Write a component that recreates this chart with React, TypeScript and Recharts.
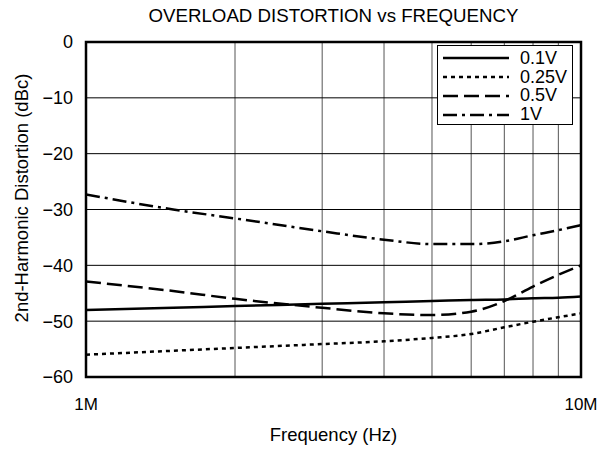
import React from 'react';
import { LineChart, Line, XAxis, YAxis, CartesianGrid, ReferenceArea, Legend } from 'recharts';

const freqs = [1e6, 1.5e6, 2e6, 3e6, 4e6, 5e6, 6e6, 7e6, 8e6, 9e6, 1e7];
const v01 = [-48.0, -47.6, -47.3, -46.9, -46.6, -46.4, -46.2, -46.1, -45.9, -45.8, -45.6];
const v025 = [-56.0, -55.3, -54.8, -54.1, -53.6, -53.0, -52.3, -51.1, -50.1, -49.3, -48.6];
const v05 = [-42.9, -44.6, -46.0, -47.6, -48.6, -48.9, -48.3, -46.4, -43.8, -41.7, -40.0];
const v1 = [-27.3, -30.0, -31.6, -33.9, -35.4, -36.2, -36.2, -35.7, -34.6, -33.7, -32.8];

const xTicks = [1e6, 2e6, 3e6, 4e6, 5e6, 6e6, 7e6, 8e6, 9e6, 1e7];
const yTicks = [-60, -50, -40, -30, -20, -10, 0];
const seriesNames = ['0.1V', '0.25V', '0.5V', '1V'];
const seriesKeys = ['a', 'b', 'c', 'd'];
const dashes = ['', '4 4', '15 6', '14 5 3 5'];

const data = freqs.map((f, i) => ({ f, a: v01[i], b: v025[i], c: v05[i], d: v1[i] }));

const FONT = '"Liberation Sans", Arial, Helvetica, sans-serif';

const fmtX = (v: number) => (v === 1e6 ? '1M' : v === 1e7 ? '10M' : '');
const fmtY = (v: number) => (v === 0 ? '0' : '\u2212' + Math.abs(v));

const renderLegend = () => (
  <div style={{ width: 136, height: 80, boxSizing: 'border-box', border: '1.5px solid #000', background: '#fff' }}>
    <svg width={133} height={77} style={{ display: 'block', overflow: 'visible' }}>
      {seriesNames.map((n, i) => {
        const y = 12 + i * 19;
        return (
          <g key={n}>
            <line x1={5} x2={71} y1={y} y2={y} stroke="#000" strokeWidth={2.5} strokeDasharray={dashes[i] || undefined} />
            <text x={82} y={18 + i * 18.6} fontSize={18} fontFamily={FONT} fill="#000">{n}</text>
          </g>
        );
      })}
    </svg>
  </div>
);

const renderYLabel = () => (
  <text
    x={21}
    y={198}
    transform="rotate(-90 21 198)"
    textAnchor="middle"
    dominantBaseline="central"
    fontSize={18.5}
    fontFamily={FONT}
    fill="#000"
  >
    2nd-Harmonic Distortion (dBc)
  </text>
);

export default function App() {
  return (
    <div style={{ position: 'absolute', left: 0, top: 0, width: 600, height: 450, background: '#fff', fontFamily: FONT }}>
      <div style={{ position: 'absolute', left: 86, width: 495, top: 5, textAlign: 'center', fontSize: 18.7, color: '#000', whiteSpace: 'nowrap' }}>
        OVERLOAD DISTORTION vs FREQUENCY
      </div>
      <LineChart width={600} height={450} data={data} margin={{ top: 42, right: 19, left: 0, bottom: 0 }} style={{ position: 'absolute', left: 0, top: 0 }}>
        <CartesianGrid horizontal={false} vertical={true} stroke="#555" strokeWidth={1} />
        <CartesianGrid horizontal={true} vertical={false} stroke="#000" strokeWidth={1} />
        <XAxis
          dataKey="f"
          type="number"
          scale="log"
          domain={[1e6, 1e7]}
          ticks={xTicks}
          interval={0}
          tickFormatter={fmtX}
          axisLine={false}
          tickLine={false}
          tickSize={0}
          tickMargin={21}
          height={73}
          tick={{ fontSize: 17, fill: '#000', fontFamily: FONT }}
          label={{ value: 'Frequency (Hz)', position: 'insideBottom', offset: 9, style: { fontSize: 18.5, fill: '#000', fontFamily: FONT } }}
          allowDataOverflow
        />
        <YAxis
          type="number"
          domain={[-60, 0]}
          ticks={yTicks}
          interval={0}
          tickFormatter={fmtY}
          axisLine={false}
          tickLine={false}
          tickSize={0}
          tickMargin={13}
          width={86}
          tick={{ fontSize: 18, fill: '#000', fontFamily: FONT }}
          label={{ content: renderYLabel }}
        />
        {seriesKeys.map((k, i) => (
          <Line
            key={k}
            dataKey={k}
            name={seriesNames[i]}
            type="monotone"
            stroke="#000"
            strokeWidth={2.5}
            strokeDasharray={dashes[i] || undefined}
            dot={false}
            activeDot={false}
            isAnimationActive={false}
          />
        ))}
        <ReferenceArea x1={1e6} x2={1e7} y1={-60} y2={0} fill="none" stroke="#000" strokeWidth={2.5} ifOverflow="visible" />
        <Legend
          layout="vertical"
          align="center"
          verticalAlign="middle"
          content={renderLegend}
          wrapperStyle={{ position: 'absolute', left: 437, top: 45, width: 136, height: 80 }}
        />
      </LineChart>
    </div>
  );
}
